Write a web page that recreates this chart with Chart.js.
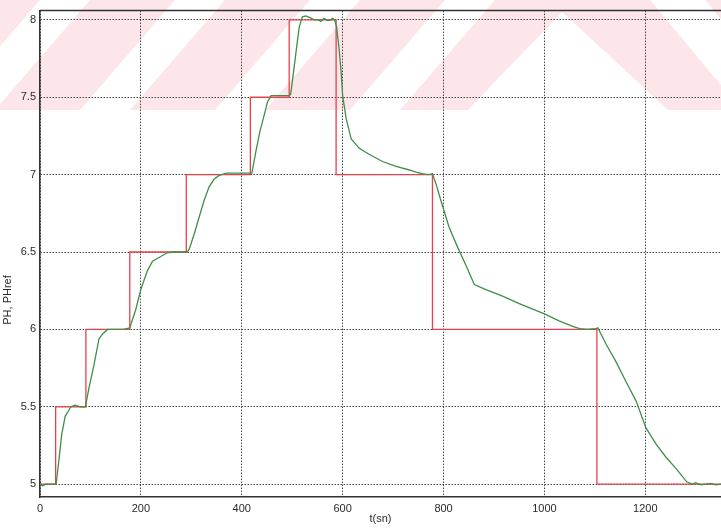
<!DOCTYPE html>
<html>
<head>
<meta charset="utf-8">
<script src="https://cdn.jsdelivr.net/npm/chart.js@4.4.1/dist/chart.umd.min.js"></script>
<style>
  html, body { margin: 0; padding: 0; background: #ffffff; }
  #wrap { width: 721px; height: 529px; position: relative; }
</style>
</head>
<body>
<div id="wrap"><canvas id="ph"></canvas></div>
<script>
// Reference set-point (step changes): time of each change and the new value
const refTimes  = [0, 31, 91, 178, 290, 417, 494, 587, 778, 1104, 1350];
const refValues = [5, 5.5, 6, 6.5, 7, 7.5, 8, 7, 6, 5, 5];

// Measured pH response
const phTimes = [0, 5, 12, 20, 32, 38, 43, 50, 54, 61, 70, 80, 90, 97, 107, 117, 124, 134, 150, 165,
  178, 190, 200, 213, 223, 236, 252, 265, 280, 292, 296, 306, 315, 325, 335, 345, 355, 370, 385, 400,
  414, 420, 428, 436, 444, 451, 458, 470, 485, 494, 497, 504, 509, 514, 520, 527, 535, 544, 552, 557,
  563, 570, 576, 580, 584, 588, 593, 597, 600, 607, 617, 633, 653, 679, 706, 732, 747, 760, 770, 778,
  785, 795, 811, 828, 845, 861, 884, 917, 950, 1000, 1029, 1056, 1070, 1085, 1102, 1106, 1122, 1142, 1162, 1182,
  1201, 1221, 1241, 1261, 1282, 1293, 1300, 1310, 1320, 1330, 1340, 1350];
const phValues = [5.0, 4.99, 5.0, 5.0, 5.0, 5.17, 5.32, 5.44, 5.46, 5.5, 5.51, 5.5, 5.5, 5.62, 5.77, 5.94, 5.97, 6.0, 6.0, 6.0,
  6.01, 6.13, 6.26, 6.38, 6.44, 6.465, 6.495, 6.5, 6.5, 6.5, 6.52, 6.62, 6.72, 6.83, 6.92, 6.97, 6.995, 7.01, 7.01, 7.01,
  7.01, 7.01, 7.15, 7.28, 7.38, 7.47, 7.51, 7.51, 7.51, 7.51, 7.52, 7.70, 7.83, 7.955, 8.02, 8.025, 8.015, 8.0, 8.0, 7.99,
  8.01, 7.995, 8.0, 8.01, 8.0, 7.955, 7.81, 7.66, 7.51, 7.36, 7.23, 7.17, 7.13, 7.085, 7.053, 7.03, 7.015, 7.005, 7.0, 7.006,
  6.94, 6.83, 6.66, 6.53, 6.41, 6.29, 6.257, 6.215, 6.166, 6.10, 6.055, 6.02, 6.005, 6.0, 6.005, 6.01, 5.906, 5.79, 5.66, 5.535,
  5.365, 5.26, 5.174, 5.10, 5.015, 5.0, 5.01, 4.995, 5.0, 5.005, 4.995, 5.0];

// Axis ticks
const xTicks = [0, 200, 400, 600, 800, 1000, 1200];
const yTicks = [5, 5.5, 6, 6.5, 7, 7.5, 8];

const xLabel = 't(sn)';
const yLabel = 'PH, PHref';

const toPoints = (xs, ys) => xs.map((x, i) => ({ x: x, y: ys[i] }));

const FONT = { family: "'Liberation Sans', Arial, sans-serif", size: 11 };
const INK = '#2a2a2a';

// Paper background with the light pink diagonal band across the top
const backdrop = {
  id: 'backdrop',
  beforeDraw(chart) {
    const ctx = chart.ctx, w = chart.width, h = chart.height;
    ctx.save();
    ctx.fillStyle = '#ffffff';
    ctx.fillRect(0, 0, w, h);
    ctx.beginPath();
    ctx.rect(0, 0, w, 110);
    ctx.clip();
    ctx.fillStyle = '#fce6ea';
    ctx.fillRect(0, 0, w, 110);
    ctx.fillStyle = '#ffffff';
    [-55, 80, 215, 350].forEach(b => {
      ctx.beginPath();
      ctx.moveTo(b, 110); ctx.lineTo(b + 50, 110);
      ctx.lineTo(b + 145, 0); ctx.lineTo(b + 95, 0);
      ctx.closePath(); ctx.fill();
    });
    ctx.beginPath();
    ctx.moveTo(562, 12); ctx.lineTo(668, 110); ctx.lineTo(468, 110);
    ctx.closePath(); ctx.fill();
    ctx.beginPath();
    ctx.moveTo(650, 0); ctx.lineTo(705, 0); ctx.lineTo(797, 110); ctx.lineTo(742, 110);
    ctx.closePath(); ctx.fill();
    ctx.restore();
  },
  afterDraw(chart) {
    const ctx = chart.ctx, a = chart.chartArea;
    ctx.save();
    // frame line along the top of the plot
    ctx.strokeStyle = '#333333';
    ctx.lineWidth = 1.5;
    ctx.beginPath();
    ctx.moveTo(a.left, a.top);
    ctx.lineTo(a.right, a.top);
    ctx.stroke();
    // vertical y-axis title
    ctx.fillStyle = INK;
    ctx.font = `${FONT.size}px ${FONT.family}`;
    ctx.textAlign = 'center';
    ctx.textBaseline = 'middle';
    ctx.translate(8, 300);
    ctx.rotate(-Math.PI / 2);
    ctx.fillText(yLabel, 0, 0);
    ctx.restore();
  }
};

new Chart(document.getElementById('ph'), {
  type: 'line',
  data: {
    datasets: [
      {
        label: 'PH',
        data: toPoints(phTimes, phValues),
        borderColor: '#3f8f48',
        borderWidth: 1.3,
        pointRadius: 0,
        tension: 0,
        order: 0
      },
      {
        label: 'PHref',
        data: toPoints(refTimes, refValues),
        borderColor: '#e8404a',
        borderWidth: 1.3,
        pointRadius: 0,
        stepped: 'before',
        order: 1
      }
    ]
  },
  options: {
    responsive: true,
    maintainAspectRatio: false,
    animation: false,
    layout: { padding: { top: 4, right: 0, left: 0, bottom: 0 } },
    plugins: { legend: { display: false }, tooltip: { enabled: false } },
    scales: {
      x: {
        type: 'linear',
        min: 0,
        max: 1350,
        afterFit(s) { s.height = 32; },
        afterBuildTicks(s) { s.ticks = xTicks.map(v => ({ value: v })); },
        ticks: { font: FONT, color: INK, padding: 5, maxRotation: 0, includeBounds: false,
                 callback: v => String(v) },
        grid: { color: '#444444', lineWidth: 1, drawTicks: false },
        border: { display: true, color: '#333333', width: 1.5, dash: [1.5, 1.5] },
        title: { display: true, text: xLabel, font: FONT, color: INK, padding: { top: 0, bottom: 3 } }
      },
      y: {
        type: 'linear',
        min: 4.917,
        max: 8.06,
        afterFit(s) { s.width = 40; },
        afterBuildTicks(s) { s.ticks = yTicks.map(v => ({ value: v })); },
        ticks: { font: FONT, color: INK, padding: 4, includeBounds: false,
                 callback: v => String(v) },
        grid: { color: '#444444', lineWidth: 1, drawTicks: false },
        border: { display: true, color: '#333333', width: 1.5, dash: [1.5, 1.5] }
      }
    }
  },
  plugins: [backdrop]
});
</script>
</body>
</html>
